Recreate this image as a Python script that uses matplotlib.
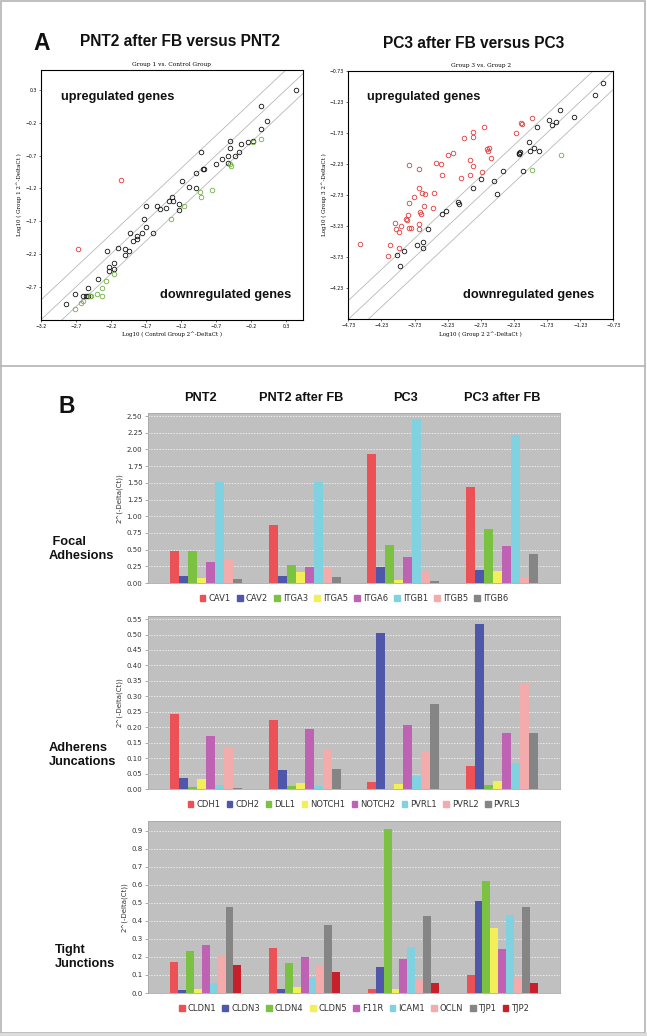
import numpy as np
import matplotlib
matplotlib.use('Agg')
from matplotlib import pyplot as plt
from matplotlib.patches import Rectangle, Patch
from matplotlib.lines import Line2D

# ---- panel A: scatter data (log10 2^-DeltaCt) ----
pnt2_black_x = [0.45, -0.06, 0.03, -0.05, -0.50, -0.34, -0.50, -0.37, -0.24, -0.17, -0.91, -0.42, -0.53, -0.61,
                -0.70, -0.53, -0.87, -0.89, -0.98, -1.19, -1.08, -0.98, -1.33, -1.31, -1.37, -1.54, -1.50, -1.41,
                -1.70, -1.22, -1.22, -1.73, -1.69, -1.60, -1.93, -1.75, -1.83, -1.82, -1.88, -2.10, -1.99, -1.94,
                -1.99, -2.26, -2.15, -2.23, -2.23, -2.16, -2.38, -2.53, -2.71, -2.56, -2.52, -2.84, -2.60]
pnt2_black_y = [0.30, 0.06, -0.18, -0.30, -0.48, -0.53, -0.59, -0.64, -0.50, -0.48, -0.65, -0.70, -0.70, -0.76,
                -0.83, -0.82, -0.90, -0.91, -0.96, -1.08, -1.18, -1.19, -1.33, -1.39, -1.39, -1.47, -1.51, -1.49,
                -1.47, -1.44, -1.53, -1.66, -1.79, -1.88, -1.87, -1.87, -1.92, -1.97, -2.00, -2.10, -2.12, -2.15,
                -2.21, -2.15, -2.33, -2.39, -2.46, -2.42, -2.58, -2.72, -2.80, -2.83, -2.83, -2.96, -2.84]
pnt2_green_x = [-0.06, -0.17, -0.49, -0.50, -0.76, -0.93, -0.91, -1.16, -1.34, -2.16, -2.27, -2.33, -2.39, -2.33,
                -2.50, -2.59, -2.63, -2.71, -2.48]
pnt2_green_y = [-0.45, -0.50, -0.86, -0.83, -1.23, -1.26, -1.33, -1.47, -1.67, -2.50, -2.61, -2.71, -2.80, -2.83,
                -2.83, -2.91, -2.94, -3.03, -2.84]
pnt2_red_x = [-2.05, -2.67]
pnt2_red_y = [-1.07, -2.12]

pc3_black_x = [-0.89, -1.01, -1.32, -1.53, -1.59, -1.70, -1.66, -1.88, -2.01, -1.92, -1.98, -1.85, -2.15, -2.14,
               -2.16, -2.10, -2.39, -2.53, -2.73, -2.85, -2.49, -3.07, -3.06, -3.26, -3.31, -3.52, -3.60, -3.61,
               -3.70, -3.89, -3.99, -3.95]
pc3_black_y = [-0.93, -1.12, -1.48, -1.37, -1.56, -1.53, -1.60, -1.64, -1.88, -1.97, -2.02, -2.02, -2.07, -2.04,
               -2.06, -2.34, -2.34, -2.51, -2.47, -2.61, -2.71, -2.84, -2.88, -2.98, -3.03, -3.27, -3.49, -3.59,
               -3.54, -3.63, -3.70, -3.87]
pc3_green_x = [-1.52, -1.95]
pc3_green_y = [-2.08, -2.32]
pc3_red_x = [-1.95, -2.12, -2.11, -2.20, -2.68, -2.85, -2.85, -2.99, -2.61, -2.63, -2.62, -2.58, -3.15, -3.23,
             -2.89, -2.85, -3.40, -3.33, -2.71, -2.89, -3.31, -3.03, -3.81, -3.66, -3.66, -3.62, -3.57, -3.74,
             -3.43, -3.81, -3.59, -3.45, -3.65, -3.64, -3.83, -3.86, -3.85, -3.67, -3.78, -3.81, -3.93, -4.03,
             -4.01, -3.96, -3.67, -4.56, -4.10, -3.96, -4.13]
pc3_red_y = [-1.49, -1.57, -1.58, -1.74, -1.63, -1.72, -1.80, -1.81, -1.97, -1.99, -2.02, -2.14, -2.06, -2.09,
             -2.16, -2.26, -2.21, -2.23, -2.36, -2.41, -2.41, -2.45, -2.25, -2.31, -2.62, -2.70, -2.72, -2.77,
             -2.69, -2.86, -2.90, -2.94, -3.01, -3.04, -3.05, -3.11, -3.14, -3.19, -3.26, -3.26, -3.23, -3.18,
             -3.28, -3.33, -3.28, -3.52, -3.54, -3.58, -3.71]

pnt2_xticks = [-3.2, -2.7, -2.2, -1.7, -1.2, -0.7, -0.2, 0.3]
pnt2_yticks = [-2.7, -2.2, -1.7, -1.2, -0.7, -0.2, 0.3]
pc3_xticks = [-4.73, -4.23, -3.73, -3.23, -2.73, -2.23, -1.73, -1.23, -0.73]
pc3_yticks = [-4.23, -3.73, -3.23, -2.73, -2.23, -1.73, -1.23, -0.73]

# ---- panel B: bar data 2^(-Delta(Ct)) ----
groups = ['PNT2', 'PNT2 after FB', 'PC3', 'PC3 after FB']

fa_genes = ['CAV1', 'CAV2', 'ITGA3', 'ITGA5', 'ITGA6', 'ITGB1', 'ITGB5', 'ITGB6']
fa_vals = [[0.475, 0.875, 1.925, 1.43],
           [0.10, 0.10, 0.235, 0.20],
           [0.475, 0.27, 0.565, 0.81],
           [0.07, 0.165, 0.05, 0.185],
           [0.315, 0.235, 0.39, 0.56],
           [1.51, 1.515, 2.45, 2.22],
           [0.35, 0.235, 0.16, 0.09],
           [0.065, 0.095, 0.035, 0.43]]

aj_genes = ['CDH1', 'CDH2', 'DLL1', 'NOTCH1', 'NOTCH2', 'PVRL1', 'PVRL2', 'PVRL3']
aj_vals = [[0.243, 0.224, 0.022, 0.073],
           [0.034, 0.060, 0.504, 0.534],
           [0.008, 0.009, 0.001, 0.013],
           [0.031, 0.021, 0.017, 0.026],
           [0.171, 0.193, 0.207, 0.180],
           [0.013, 0.010, 0.042, 0.084],
           [0.133, 0.130, 0.121, 0.343],
           [0.003, 0.064, 0.274, 0.181]]

tj_genes = ['CLDN1', 'CLDN3', 'CLDN4', 'CLDN5', 'F11R', 'ICAM1', 'OCLN', 'TJP1', 'TJP2']
tj_vals = [[0.170, 0.251, 0.024, 0.102],
           [0.017, 0.024, 0.144, 0.512],
           [0.231, 0.164, 0.911, 0.621],
           [0.022, 0.031, 0.024, 0.362],
           [0.264, 0.198, 0.189, 0.244],
           [0.054, 0.087, 0.257, 0.431],
           [0.207, 0.153, 0.078, 0.089],
           [0.479, 0.379, 0.425, 0.477],
           [0.155, 0.116, 0.057, 0.057]]

bar_colors = ['#ec5156', '#4f57aa', '#7cc242', '#f2ef58', '#c062b4', '#80d2e0', '#f4abab', '#858585', '#c8202a']

W, H = 647, 1036
fig = plt.figure(figsize=(W / 100, H / 100), dpi=100)
fig.patch.set_facecolor('white')


def box(l, t, r, b):
    return [l / W, 1 - b / H, (r - l) / W, (b - t) / H]


def ftext(x, y, s, **kw):
    fig.text(x / W, 1 - y / H, s, **kw)


bold = dict(family='Liberation Sans', weight='bold', color='#111111', va='center')

# frames
fig.patches.append(Rectangle((1 / W, 1 - 1033 / H), 644 / W, 1032 / H, transform=fig.transFigure,
                             fill=False, edgecolor='#b4b4b4', lw=1.2))
fig.lines.append(Line2D([1 / W, 645 / W], [1 - 366 / H, 1 - 366 / H], transform=fig.transFigure,
                        color='#b4b4b4', lw=1.2))
fig.patches.append(Rectangle((0, 0), 1, 3 / H, transform=fig.transFigure, color='#dcdcdc', lw=0))


def scatter_panel(rect, lims, xticks, yticks, pts, sub, xl, yl):
    ax = fig.add_axes(rect)
    (x0, x1), (y0, y1) = lims
    d = np.array([min(x0, y0) - 1, max(x1, y1) + 1])
    # fold-change 2 boundaries and identity line
    for off in (0.301, 0, -0.301):
        ax.plot(d, d + off, color='#b8b8b8', lw=0.6, zorder=1)
    for xs, ys, c in pts:
        ax.plot(xs, ys, 'o', mfc='none', mec=c, ms=3.3, mew=0.6, zorder=3)
    ax.set_xlim(x0, x1)
    ax.set_ylim(y0, y1)
    ax.set_xticks(xticks)
    ax.set_yticks(yticks)
    ax.tick_params(labelsize=3.3, length=1.5, width=0.4, pad=1.5)
    for s in ax.spines.values():
        s.set_linewidth(0.8)
    ax.set_title(sub, fontsize=4.2, pad=3, family='DejaVu Serif')
    ax.set_xlabel(xl, fontsize=4, labelpad=2, family='DejaVu Serif')
    ax.set_ylabel(yl, fontsize=4, labelpad=2, family='DejaVu Serif')
    return ax


scatter_panel(box(40.7, 70, 302.7, 320), ((-3.2, 0.54), (-3.2, 0.6)), pnt2_xticks, pnt2_yticks,
              [(pnt2_black_x, pnt2_black_y, '#111111'), (pnt2_green_x, pnt2_green_y, '#6db33f'),
               (pnt2_red_x, pnt2_red_y, '#e03a3a')],
              'Group 1 vs. Control Group', 'Log10 ( Control Group 2^-DeltaCt )',
              'Log10 ( Group 1 2^-DeltaCt )')

scatter_panel(box(348.3, 70.7, 613.3, 319.3), ((-4.73, -0.73), (-4.73, -0.73)), pc3_xticks, pc3_yticks,
              [(pc3_black_x, pc3_black_y, '#111111'), (pc3_green_x, pc3_green_y, '#6db33f'),
               (pc3_red_x, pc3_red_y, '#e03a3a')],
              'Group 3 vs. Group 2', 'Log10 ( Group 2 2^-DeltaCt )', 'Log10 ( Group 3 2^-DeltaCt )')

ftext(42, 43, 'A', fontsize=16.5, ha='center', **bold)
ftext(180, 42, 'PNT2 after FB versus PNT2', fontsize=11.2, ha='center', **bold)
ftext(474, 43, 'PC3 after FB versus PC3', fontsize=11.2, ha='center', **bold)
ftext(118, 97, 'upregulated genes', fontsize=9.2, ha='center', **bold)
ftext(424, 97, 'upregulated genes', fontsize=9.2, ha='center', **bold)
ftext(226, 295, 'downregulated genes', fontsize=9.2, ha='center', **bold)
ftext(529, 295, 'downregulated genes', fontsize=9.2, ha='center', **bold)


# ---- panel B ----
def bar_panel(rect, genes, vals, ytop, ticks, fmt, row_label, row_x, row_y):
    ax = fig.add_axes(rect)
    ax.set_facecolor('#c0c0c0')
    n = len(genes)
    bw = (0.727 if n == 8 else 0.717) / n
    x = np.arange(len(groups))
    for i, g in enumerate(genes):
        ax.bar(x + (i - (n - 1) / 2) * bw, vals[i], width=bw, color=bar_colors[i], lw=0, zorder=3)
    ax.set_xlim(-0.586, 3.586)
    ax.set_ylim(0, ytop)
    ax.set_yticks(ticks)
    ax.set_yticklabels([fmt % t for t in ticks])
    ax.set_xticks([])
    ax.yaxis.grid(True, color='white', ls=(0, (2, 2)), lw=0.5, zorder=0)
    ax.set_axisbelow(True)
    ax.tick_params(axis='y', labelsize=5, length=2, width=0.5, color='#888888', pad=2, labelcolor='#333333')
    for s in ax.spines.values():
        s.set_color('#a8a8a8')
        s.set_linewidth(0.6)
    ax.set_ylabel('2^(-Delta(Ct))', fontsize=5, color='#333333', labelpad=3)
    handles = [Patch(color=bar_colors[i], label=g) for i, g in enumerate(genes)]
    ax.legend(handles=handles, loc='upper center', bbox_to_anchor=(0.5, -0.02), ncol=n, frameon=False,
              fontsize=6, handlelength=0.7, handleheight=0.7, handletextpad=0.35, columnspacing=0.75,
              labelcolor='#333333')
    ftext(row_x, row_y, row_label, fontsize=9.2, linespacing=1.15, ha='left', multialignment='left', **bold)
    return ax


bar_panel(box(148, 413, 560, 583), fa_genes, fa_vals, 2.545, np.arange(0, 2.51, 0.25), '%.2f',
          ' Focal\nAdhesions', 49, 549)
bar_panel(box(148, 616, 560, 789), aj_genes, aj_vals, 0.56, np.arange(0, 0.551, 0.05), '%.2f',
          'Adherens\nJuncations', 49, 755)
bar_panel(box(148, 821, 560, 993), tj_genes, tj_vals, 0.955, np.arange(0, 0.91, 0.1), '%.1f',
          'Tight\nJunctions', 55, 957)

ftext(67, 407, 'B', fontsize=16.5, ha='center', **bold)
for gx, g in zip([200, 301, 405, 502], groups):
    ftext(gx, 398, g, fontsize=9.2, ha='center', **bold)

fig.savefig('out.png', dpi=100)
